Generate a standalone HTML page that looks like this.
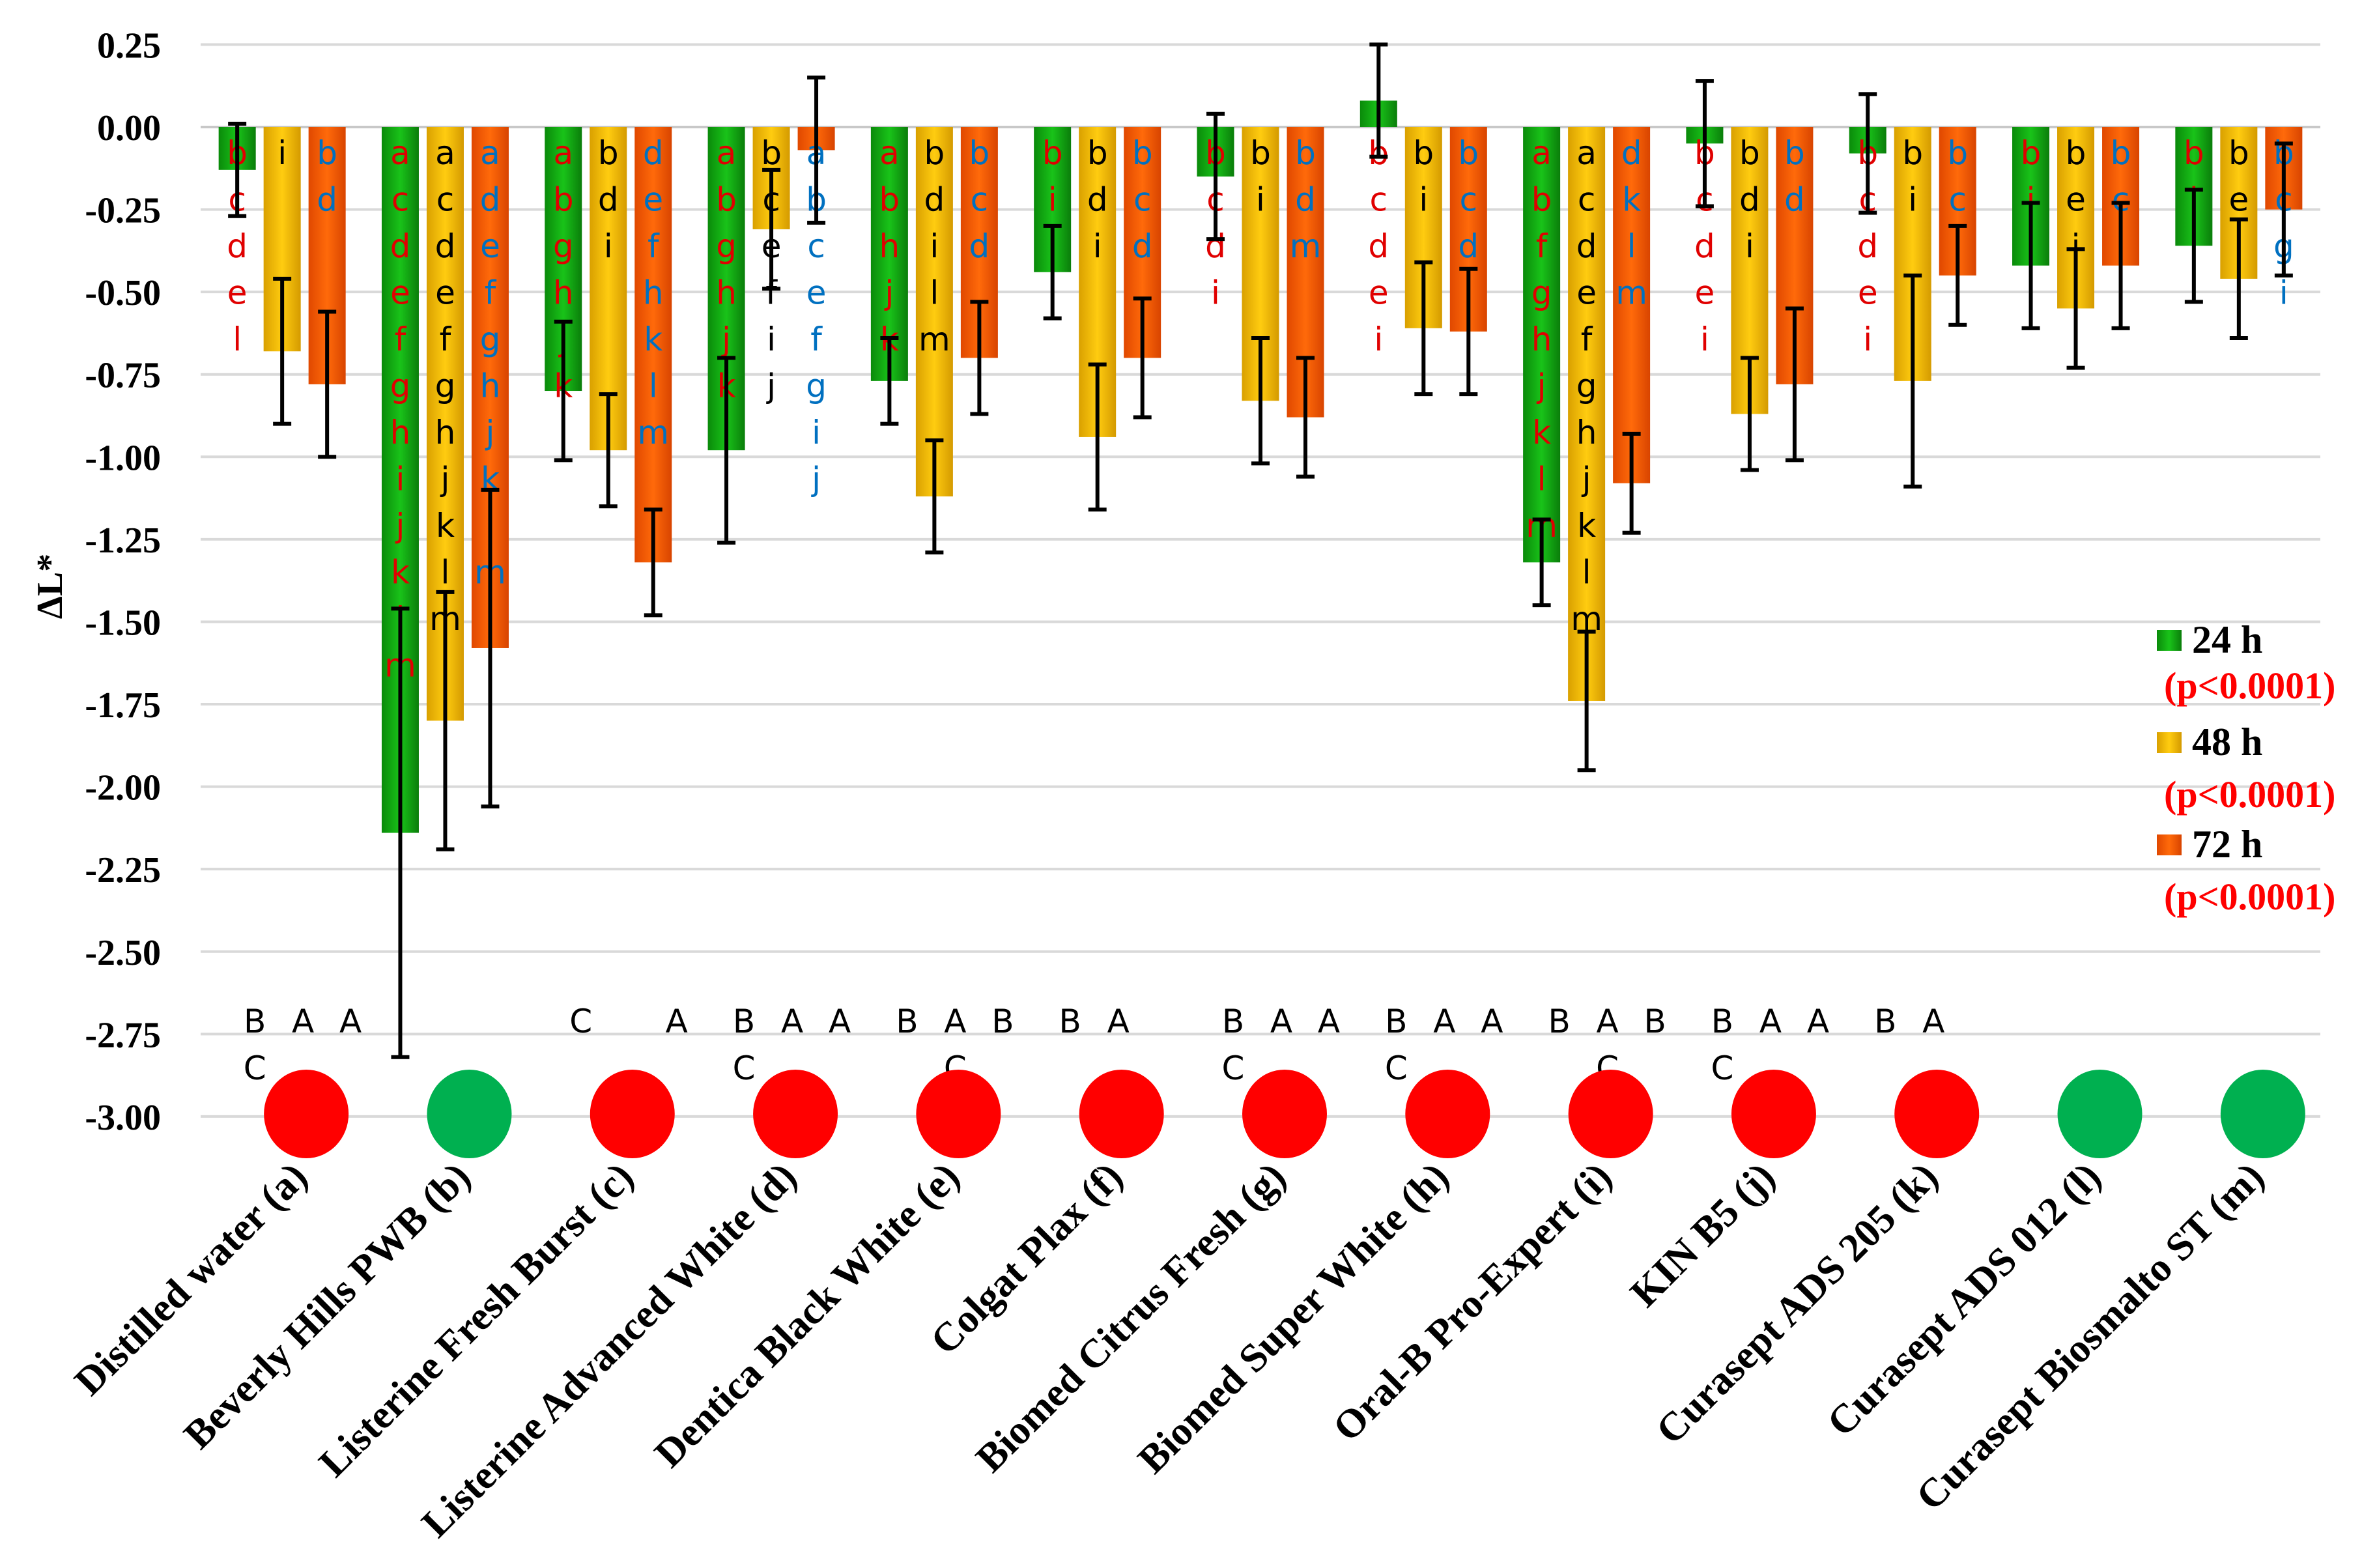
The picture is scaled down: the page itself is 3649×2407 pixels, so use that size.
<!DOCTYPE html>
<html><head><meta charset="utf-8"><style>
html,body{margin:0;padding:0;background:#fff;}
svg{display:block;}
</style></head><body>
<svg id="chart" width="3649" height="2407" viewBox="0 0 3649 2407" xmlns="http://www.w3.org/2000/svg">
<defs>
<linearGradient id="gG" x1="0" x2="1" y1="0" y2="0"><stop offset="0" stop-color="#0a8a0a"/><stop offset="0.5" stop-color="#19c319"/><stop offset="1" stop-color="#0a7d0a"/></linearGradient>
<linearGradient id="gY" x1="0" x2="1" y1="0" y2="0"><stop offset="0" stop-color="#d9a000"/><stop offset="0.5" stop-color="#ffcc10"/><stop offset="1" stop-color="#d49a00"/></linearGradient>
<linearGradient id="gO" x1="0" x2="1" y1="0" y2="0"><stop offset="0" stop-color="#e04800"/><stop offset="0.5" stop-color="#ff6a0a"/><stop offset="1" stop-color="#d84400"/></linearGradient>
</defs>
<g id="grid"></g>
<g id="yaxis"></g>
<text transform="translate(95,900) rotate(-90)" text-anchor="middle" font-family="Liberation Serif, serif" font-weight="bold" font-size="56">ΔL*</text>
<g id="bars"></g>
<g id="caps"></g>
<g id="xlabels"></g>
<g font-family="Liberation Serif, serif" font-weight="bold">
 <rect x="3311" y="967" width="38" height="32" fill="url(#gG)"/>
 <text x="3365" y="1002" font-size="60">24 h</text>
 <text x="3322" y="1072" font-size="58" fill="#ff0000">(p&lt;0.0001)</text>
 <rect x="3311" y="1124" width="38" height="32" fill="url(#gY)"/>
 <text x="3365" y="1159" font-size="60">48 h</text>
 <text x="3322" y="1239" font-size="58" fill="#ff0000">(p&lt;0.0001)</text>
 <rect x="3311" y="1281" width="38" height="32" fill="url(#gO)"/>
 <text x="3365" y="1316" font-size="60">72 h</text>
 <text x="3322" y="1396" font-size="58" fill="#ff0000">(p&lt;0.0001)</text>
</g>
</svg>
<script>
const categories=["Distilled water (a)","Beverly Hills PWB (b)","Listerine Fresh Burst (c)","Listerine Advanced White (d)","Dentica Black White (e)","Colgat Plax (f)","Biomed Citrus Fresh (g)","Biomed Super White (h)","Oral-B Pro-Expert  (i)","KIN B5 (j)","Curasept ADS 205 (k)","Curasept ADS 012 (l)","Curasept Biosmalto ST (m)"];
const values24=[-0.13,-2.14,-0.80,-0.98,-0.77,-0.44,-0.15,0.08,-1.32,-0.05,-0.08,-0.42,-0.36];
const values48=[-0.68,-1.80,-0.98,-0.31,-1.12,-0.94,-0.83,-0.61,-1.74,-0.87,-0.77,-0.55,-0.46];
const values72=[-0.78,-1.58,-1.32,-0.07,-0.70,-0.70,-0.88,-0.62,-1.08,-0.78,-0.45,-0.42,-0.25];
const err24=[0.14,0.68,0.21,0.28,0.13,0.14,0.19,0.17,0.13,0.19,0.18,0.19,0.17];
const err48=[0.22,0.39,0.17,0.18,0.17,0.22,0.19,0.20,0.21,0.17,0.32,0.18,0.18];
const err72=[0.22,0.48,0.16,0.22,0.17,0.18,0.18,0.19,0.15,0.23,0.15,0.19,0.20];
const letters24=["bcdel","acdefghijklm","abghjk","abghjk","abhjk","bi","bcdi","bcdei","abfghjklm","bcdei","bcdei","bi","bi"];
const letters48=["i","acdefghjklm","bdi","bcefij","bdilm","bdi","bi","bi","acdefghjklm","bdi","bi","bei","bei"];
const letters72=["bd","adefghjklm","defhklm","abcefgij","bcd","bcd","bdm","bcd","dklm","bd","bci","bci","bcgi"];
const capsTop=[["B","A","A"],["","",""],["C","","A"],["B","A","A"],["B","A","B"],["B","A",""],["B","A","A"],["B","A","A"],["B","A","B"],["B","A","A"],["B","A",""],["","",""],["","",""]];
const capsLow=[["C",""],["",""],["",""],["C",""],["","C"],["",""],["C",""],["C",""],["","C"],["C",""],["",""],["",""],["",""]];
const circleColors=["red","green","red","red","red","red","red","red","red","red","red","green","green"];
const yTicks=[0.25,0,-0.25,-0.5,-0.75,-1,-1.25,-1.5,-1.75,-2,-2.25,-2.5,-2.75,-3];

const NS="http://www.w3.org/2000/svg";
const X0=308,X1=3562,Y0=195,PER=506.3;
const yS=v=>Y0-v*PER;
const gw=(X1-X0)/categories.length;
const gc=i=>X0+gw*(i+0.5);
function mk(tag,attrs,parent){const e=document.createElementNS(NS,tag);for(const k in attrs)e.setAttribute(k,attrs[k]);parent.appendChild(e);return e;}
const grid=document.getElementById('grid'),yax=document.getElementById('yaxis'),bars=document.getElementById('bars'),capsG=document.getElementById('caps'),xl=document.getElementById('xlabels');
yTicks.forEach(t=>{
 const l=mk('line',{x1:X0,x2:X1,y1:yS(t),y2:yS(t),stroke:t===0?'#c8c8c8':'#d9d9d9','stroke-width':4},grid);
 
 
 const tx=mk('text',{x:247,y:yS(t)+20,'text-anchor':'end','font-family':'Liberation Serif, serif','font-weight':'bold','font-size':56},yax);
 tx.textContent=t.toFixed(2);
 
 
});
const series=[[values24,err24,letters24,'url(#gG)','#e00000',-69,'24h'],[values48,err48,letters48,'url(#gY)','#000000',0,'48h'],[values72,err72,letters72,'url(#gO)','#0070c0',69,'72h']];
const BW=57;
categories.forEach((c,i)=>{
 series.forEach(s=>{
  const v=s[0][i],e=s[1][i],cx=gc(i)+s[5];
  const top=Math.min(yS(0),yS(v)),h=Math.abs(yS(v)-yS(0));
  const r=mk('rect',{x:cx-BW/2,y:top,width:BW,height:Math.max(h,1),fill:s[3]},bars);
  
  
  const lt=s[2][i];
  for(let k=0;k<lt.length;k++){
   const t=mk('text',{x:cx,y:252+k*71.5,'text-anchor':'middle','font-family':'DejaVu Sans, Liberation Sans, sans-serif','font-size':50,fill:s[4]},bars);
   t.textContent=lt[k];
   
   
  }
  const ey1=yS(v+e),ey2=yS(v-e);
  const eb=mk('path',{d:`M${cx-14},${ey1}H${cx+14}M${cx},${ey1}V${ey2}M${cx-14},${ey2}H${cx+14}`,stroke:'#000','stroke-width':6,fill:'none'},bars);
  
  
 });
 const offs=[-42,32,105];
 capsTop[i].forEach((L,k)=>{ if(!L)return;
  const t=mk('text',{x:gc(i)+offs[k],y:1585,'text-anchor':'middle','font-family':'DejaVu Sans, Liberation Sans, sans-serif','font-size':50},capsG);
  t.textContent=L;
  
  
 });
 capsLow[i].forEach((L,k)=>{ if(!L)return;
  const t=mk('text',{x:gc(i)+offs[k],y:1657,'text-anchor':'middle','font-family':'DejaVu Sans, Liberation Sans, sans-serif','font-size':50},capsG);
  t.textContent=L;
  
  
 });
 const ci=mk('ellipse',{cx:gc(i)+37,cy:1710,rx:65,ry:68,fill:circleColors[i]==='red'?'#ff0000':'#00b050'},capsG);
 
 
 const x=gc(i)+42,y=1810;
 const lab=mk('text',{transform:`translate(${x},${y}) rotate(-45)`,'text-anchor':'end','font-family':'Liberation Serif, serif','font-weight':'bold','font-size':62},xl);
 lab.textContent=c;
 
 
});
</script>
</body></html>
